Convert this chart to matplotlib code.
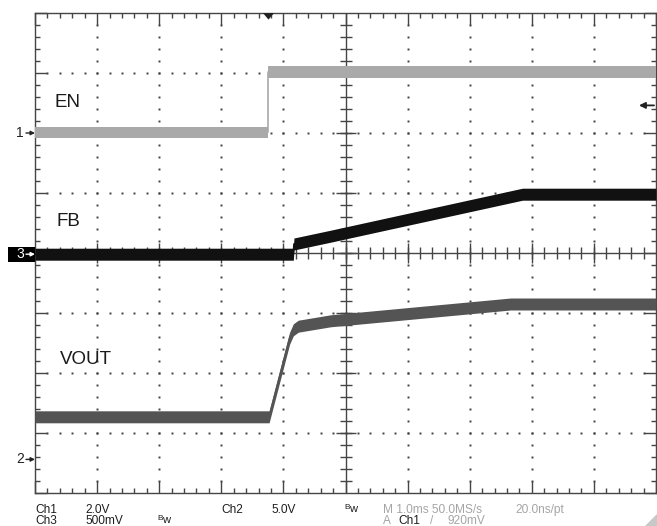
import matplotlib
matplotlib.use("Agg")
import matplotlib.pyplot as plt
import numpy as np
from matplotlib.transforms import blended_transform_factory
from matplotlib.patches import Rectangle, Polygon

# scope settings: volts per division and ground marker position (divisions from centre)
ch1_scale, ch1_ground = 2.0, 2.0     # EN
ch2_scale, ch2_ground = 5.0, -3.44   # VOUT
ch3_scale, ch3_ground = 0.5, 0.0     # FB
time_per_div = 1.0                   # ms
trig_time = 3.76                     # ms from left edge of screen
trig_level = 0.92                    # V on Ch1

# traces: time in ms from left edge, value in volts
en_t = [0.0, 3.76, 3.76, 10.0]
en_v = [0.02, 0.02, 2.04, 2.04]

fb_t = [0.0, 4.16, 4.17, 4.76, 7.85, 10.0]
fb_v = [-0.01, -0.01, 0.075, 0.14, 0.49, 0.49]

vout_t = [0.0, 3.77, 4.10, 4.16, 4.24, 4.76, 7.66, 10.0]
vout_v = [3.55, 3.55, 10.1, 10.8, 11.1, 11.55, 12.95, 12.95]

W, H = 657, 526
fig = plt.figure(figsize=(W / 100, H / 100), dpi=100)
ax = fig.add_axes([35 / W, 33 / H, 621 / W, 480 / H])
ax.set_xlim(0, 10)
ax.set_ylim(-4, 4)

gcol = "#454545"
for s in ax.spines.values():
    s.set_color(gcol)
    s.set_linewidth(1.0)
ax.set_xticks(np.arange(0, 11, 1))
ax.set_yticks(np.arange(-4, 5, 1))
ax.set_xticks(np.arange(0, 10.01, 0.2), minor=True)
ax.set_yticks(np.arange(-4, 4.01, 0.2), minor=True)
ax.tick_params(which="both", direction="in", top=True, right=True,
               labelbottom=False, labelleft=False, color=gcol, width=1)
ax.tick_params(which="major", length=8.5)
ax.tick_params(which="minor", length=3.8)

# dotted graticule
dx, dy = [], []
for gx in range(1, 10):
    if gx == 5:
        continue
    ys = np.arange(-3.8, 3.81, 0.2)
    dx += [gx] * len(ys)
    dy += list(ys)
for gy in range(-3, 4):
    if gy == 0:
        continue
    xs = np.arange(0.2, 9.81, 0.2)
    dx += list(xs)
    dy += [gy] * len(xs)
ax.plot(dx, dy, ls="none", marker="s", ms=1.4, mew=0, color="#404040", zorder=1)

# centre cross with ticks
ax.axvline(5, color=gcol, lw=1, zorder=1)
ax.axhline(0, color=gcol, lw=1, zorder=1)
minor = np.arange(0.2, 10, 0.2)
ax.plot(minor, np.zeros_like(minor), ls="none", marker="|", ms=8, mew=1, color=gcol, zorder=1)
miny = np.arange(-3.8, 4, 0.2)
ax.plot(np.full_like(miny, 5), miny, ls="none", marker="_", ms=8, mew=1, color=gcol, zorder=1)
ax.plot(np.arange(1, 10), np.zeros(9), ls="none", marker="|", ms=15, mew=1, color=gcol, zorder=1)
ax.plot(np.full(7, 5), np.arange(-3, 4), ls="none", marker="_", ms=15, mew=1, color=gcol, zorder=1)


def trace(t, v, scale, ground, color, half=0.095):
    x = np.array(t) / time_per_div
    y = ground + np.array(v) / scale
    ax.fill_between(x, y - half, y + half, color=color, lw=0, zorder=3)
    ax.plot(x, y, color=color, lw=1.2, zorder=3)


trace(en_t, en_v, ch1_scale, ch1_ground, "#a9a9a9")
trace(fb_t, fb_v, ch3_scale, ch3_ground, "#111111", half=0.1)
trace(vout_t, vout_v, ch2_scale, ch2_ground, "#545454", half=0.1)

lab = dict(fontsize=13.5, family=["Liberation Sans", "DejaVu Sans"], color="#1a1a1a",
           va="baseline", ha="left", zorder=5)
ax.text(0.32, 2.43, "EN", **lab)
ax.text(0.35, 0.45, "FB", **lab)
ax.text(0.40, -1.85, "VOUT", **lab)

# channel ground markers on the left
tr = blended_transform_factory(fig.transFigure, ax.transData)
mk = dict(fontsize=10, family=["Liberation Sans", "DejaVu Sans"], ha="center", va="center",
          zorder=8)
for num, yg in [("1", ch1_ground), ("2", ch2_ground)]:
    ax.text(20 / W, yg, num, transform=tr, color="#222222", clip_on=False, **mk)
    ax.annotate("", xy=(35 / W, yg), xytext=(26 / W, yg), xycoords=tr, textcoords=tr,
                arrowprops=dict(arrowstyle="-|>", color="#222222", lw=1, mutation_scale=6,
                                shrinkA=0, shrinkB=0))
ax.add_patch(Rectangle((8 / W, ch3_ground - 0.15), 27 / W, 0.25, transform=tr,
                       color="black", lw=0, clip_on=False, zorder=7))
ax.text(20 / W, ch3_ground - 0.02, "3", transform=tr, color="white", clip_on=False, **mk)
ax.annotate("", xy=(35 / W, ch3_ground - 0.02), xytext=(26 / W, ch3_ground - 0.02),
            xycoords=tr, textcoords=tr, zorder=8,
            arrowprops=dict(arrowstyle="-|>", color="white", lw=1, mutation_scale=6,
                            shrinkA=0, shrinkB=0))

# trigger position and level markers
tp = trig_time / time_per_div
ax.add_patch(Polygon([(tp - 0.09, 4), (tp + 0.09, 4), (tp, 3.89)], closed=True,
                     color="#222222", lw=0, clip_on=False, zorder=6))
tl = ch1_ground + trig_level / ch1_scale
ax.annotate("", xy=(639 / W, tl), xytext=(654 / W, tl), xycoords=tr, textcoords=tr,
            arrowprops=dict(arrowstyle="-|>", color="#222222", lw=1.3, mutation_scale=9,
                            shrinkA=0, shrinkB=0))

# readout
fam = ["Liberation Sans", "DejaVu Sans"]
blk, gry = "#1e1e1e", "#a5a5a5"
y1, y2 = 13 / H, 2 / H
rd = dict(fontsize=8.6, family=fam, va="baseline", ha="left")
for x, y, s, c in [(35, y1, "Ch1", blk), (85, y1, "2.0V", blk), (221, y1, "Ch2", blk),
                   (271, y1, "5.0V", blk), (383, y1, "M 1.0ms 50.0MS/s", gry),
                   (515, y1, "20.0ns/pt", gry),
                   (35, y2, "Ch3", blk), (85, y2, "500mV", blk), (383, y2, "A", gry),
                   (398, y2, "Ch1", blk), (430, y2, "/", gry), (447, y2, "920mV", gry)]:
    fig.text(x / W, y, s, color=c, **rd)
for x, y in [(344, y1), (157, y2)]:
    fig.text(x / W, y + 4 / H, "B", color=blk, fontsize=6, family=fam, va="baseline")
    fig.text((x + 5) / W, y + 1 / H, "w", color=blk, fontsize=8, family=fam, va="baseline")

fig.add_artist(Polygon([(645 / W, 0), (1, 0), (1, 12 / H)], closed=True,
                       color="#c8c8c8", lw=0))

fig.savefig("out.png", dpi=100)
